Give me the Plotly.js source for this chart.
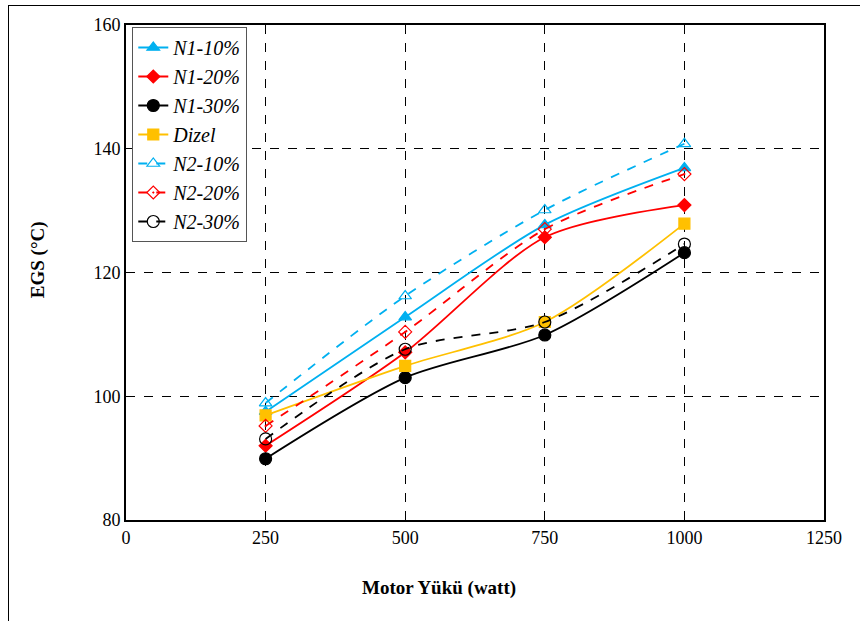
<!DOCTYPE html>
<html>
<head>
<meta charset="utf-8">
<script src="https://cdn.plot.ly/plotly-3.0.1.min.js"></script>
<style>
html,body{margin:0;padding:0;background:#fff;}
#frame{position:absolute;left:8px;top:5px;width:860px;height:640px;border:1.5px solid #000;box-sizing:border-box;pointer-events:none;z-index:5;}
#chart{position:absolute;left:0;top:0;width:860px;height:621px;}
</style>
</head>
<body>
<div id="chart"></div>
<div id="frame"></div>
<script>
const load = [250, 500, 750, 1000];
const n1_10 = [97.5, 112.8, 127.7, 136.9];
const n1_20 = [92.0, 107.1, 125.7, 130.9];
const n1_30 = [89.9, 103.0, 109.9, 123.2];
const dizel = [96.9, 104.9, 112.0, 127.9];
const n2_10 = [98.9, 116.2, 130.1, 140.8];
const n2_20 = [95.2, 110.4, 127.0, 135.9];
const n2_30 = [93.1, 107.6, 112.0, 124.6];
const names = ['N1-10%', 'N1-20%', 'N1-30%', 'Dizel', 'N2-10%', 'N2-20%', 'N2-30%'];
const xTicks = [0, 250, 500, 750, 1000, 1250];
const yTicks = [80, 100, 120, 140, 160];
const xTitle = 'Motor Yükü (watt)';
const yTitle = 'EGS (°C)';

const blue = '#00B0F0', red = '#FF0000', blk = '#000000', gold = '#FFC000';
function tr(y, name, color, dash, sym, size, i) {
  return {
    x: load, y: y, name: name, type: 'scatter', mode: 'lines+markers',
    legendgroup: 'g' + i,
    line: {color: color, width: 1.8, dash: dash, shape: 'spline', smoothing: 0.8},
    marker: {symbol: sym, size: size, color: color, line: {color: color, width: 1.2}}
  };
}
const data = [
  tr(n1_10, names[0], blue, 'solid', 'triangle-up', 11, 0),
  tr(n1_20, names[1], red, 'solid', 'diamond', 10, 1),
  tr(n1_30, names[2], blk, 'solid', 'circle', 12, 2),
  tr(dizel, names[3], gold, 'solid', 'square', 11, 3),
  tr(n2_10, names[4], blue, 'dash', 'triangle-up-open', 11, 4),
  tr(n2_20, names[5], red, 'dash', 'diamond-open-dot', 10, 5),
  tr(n2_30, names[6], blk, 'dash', 'circle-open', 12, 6)
];
const serif = 'Liberation Serif, Times New Roman, serif';
const layout = {
  width: 860, height: 621,
  margin: {l: 126, r: 36, t: 25, b: 101},
  paper_bgcolor: '#fff', plot_bgcolor: '#fff',
  font: {family: serif, size: 18, color: '#000'},
  showlegend: true,
  legend: {
    x: 0.009, y: 0.996, xanchor: 'left', yanchor: 'top',
    bgcolor: '#fff', bordercolor: '#555', borderwidth: 1,
    font: {family: serif, size: 20, color: '#000', style: 'italic'},
    tracegroupgap: 0, traceorder: 'normal', itemwidth: 30
  },
  xaxis: {
    range: [0, 1250], tickvals: xTicks, ticktext: xTicks.map(String),
    showgrid: true, gridcolor: '#000', griddash: 'dash', gridwidth: 1,
    showline: true, linecolor: '#000', linewidth: 2, mirror: true,
    zeroline: false, ticks: '', ticklen: 0,
    tickfont: {family: serif, size: 18}
  },
  yaxis: {
    range: [80, 160], tickvals: yTicks, ticktext: yTicks.map(String),
    showgrid: true, gridcolor: '#000', griddash: 'dash', gridwidth: 1,
    showline: true, linecolor: '#000', linewidth: 2, mirror: true,
    zeroline: false, ticks: '', ticklen: 0,
    tickfont: {family: serif, size: 18}
  },
  annotations: [
    {text: '<b>' + xTitle + '</b>', xref: 'paper', yref: 'paper', x: 0.448, y: -0.137,
     xanchor: 'center', yanchor: 'middle', showarrow: false, font: {family: serif, size: 19}},
    {text: '<b>' + yTitle + '</b>', xref: 'paper', yref: 'paper', x: -0.126, y: 0.525,
     xanchor: 'center', yanchor: 'middle', showarrow: false, textangle: -90, font: {family: serif, size: 19}}
  ]
};
Plotly.newPlot('chart', data, layout, {displayModeBar: false, staticPlot: true});
</script>
</body>
</html>
